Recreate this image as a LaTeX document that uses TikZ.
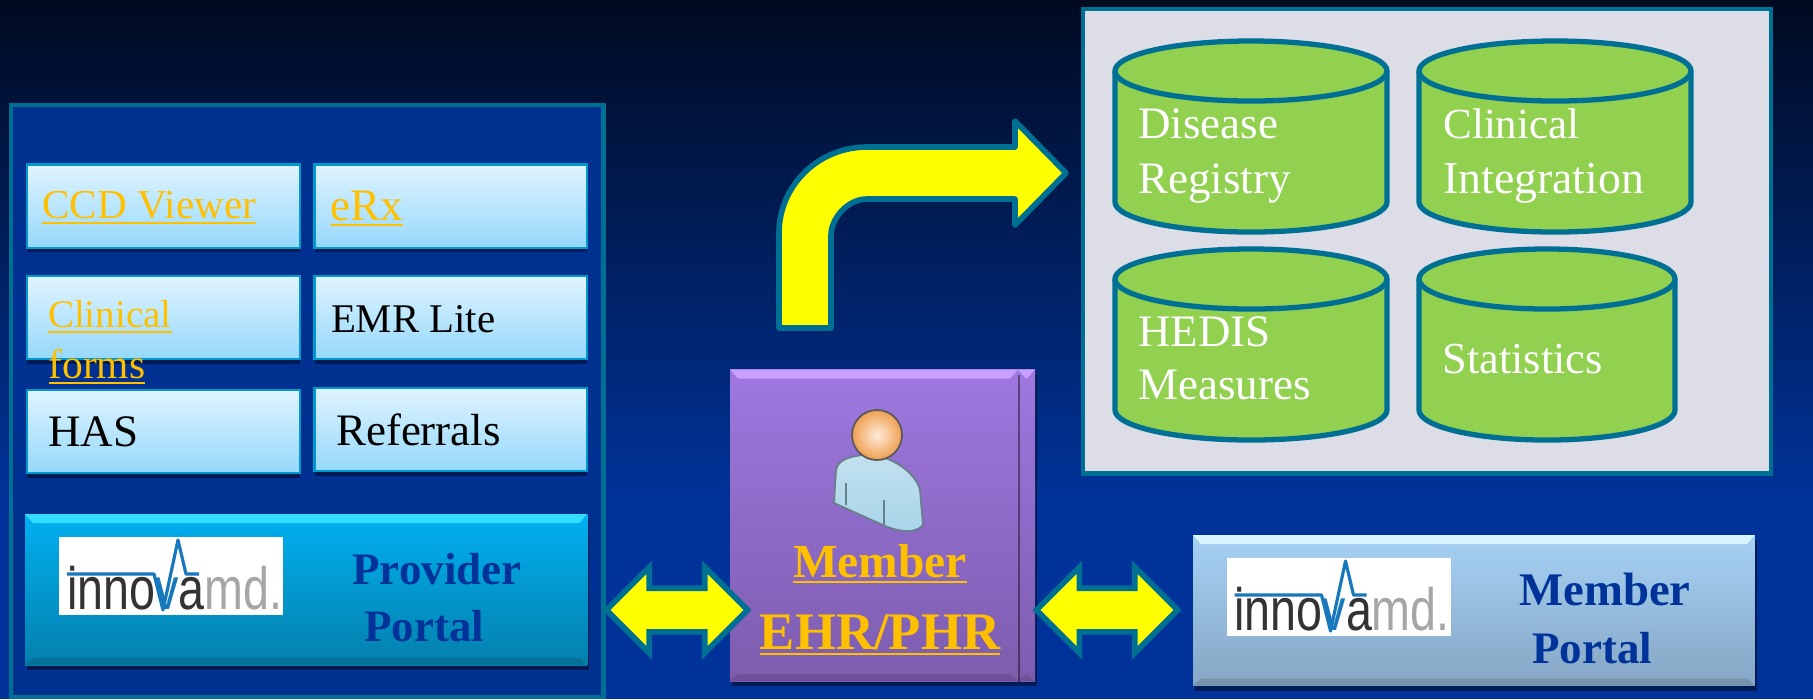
\documentclass[tikz,border=0pt]{standalone}
\usepackage{fontspec}
\usepackage{graphicx}
\usetikzlibrary{shapes.arrows,shadows}
\setmainfont{Liberation Serif}
\newfontfamily\logofont{Liberation Sans}

\definecolor{bgtop}{HTML}{000A20}
\definecolor{bgblue}{HTML}{003399}
\definecolor{panelblue}{HTML}{003090}
\definecolor{edgeteal}{HTML}{006F94}
\definecolor{boxedge}{HTML}{0099CC}
\definecolor{boxtop}{HTML}{DFF4FF}
\definecolor{boxbottom}{HTML}{95D8FB}
\definecolor{shadownavy}{HTML}{001A55}
\definecolor{linkgold}{HTML}{FFC000}
\definecolor{cylgreen}{HTML}{92D050}
\definecolor{greypanel}{HTML}{DDDDE8}
\definecolor{portalblue}{HTML}{003399}
\definecolor{provtop}{HTML}{00B0F0}
\definecolor{provbottom}{HTML}{0480AC}
\definecolor{provlight}{HTML}{33DDFF}
\definecolor{memtop}{HTML}{A6D2F5}
\definecolor{membottom}{HTML}{86A6C4}
\definecolor{memlight}{HTML}{D8F4FF}
\definecolor{purpletop}{HTML}{9E78E0}
\definecolor{purplebottom}{HTML}{7D5CAE}
\definecolor{purplelight}{HTML}{C9A0FF}
\definecolor{bodyblue}{HTML}{A8D4E8}
\definecolor{arrowyellow}{HTML}{FFFF00}
\definecolor{logoblue}{HTML}{1878BE}

\newcommand{\linktext}[1]{\vtop{\hbox{\smash{#1}}\kern1.1pt\hrule height 0.7pt}}

\tikzset{
    panelbox/.style={draw=edgeteal, line width=1.3pt, anchor=north west, outer sep=0pt},
    smallbox/.style={draw=boxedge, line width=0.6pt, anchor=north west, outer sep=0pt,
        minimum width=2.725cm, minimum height=0.83cm, top color=boxtop, bottom color=boxbottom,
        general shadow={fill=shadownavy, shadow yshift=-0.045cm}},
    bevel/.style={path picture={
        \fill[#1] (path picture bounding box.north west) -- (path picture bounding box.north east)
            -- ([xshift=-0.08cm,yshift=-0.09cm]path picture bounding box.north east)
            -- ([xshift=0.08cm,yshift=-0.09cm]path picture bounding box.north west) -- cycle;
        \fill[black, opacity=0.12] (path picture bounding box.south west) -- (path picture bounding box.south east)
            -- ([xshift=-0.08cm,yshift=0.07cm]path picture bounding box.south east)
            -- ([xshift=0.08cm,yshift=0.07cm]path picture bounding box.south west) -- cycle;
    }},
    portalbox/.style={anchor=north west, inner sep=0pt, outer sep=0pt, draw=none,
        drop shadow={fill=black, shadow xshift=0.02cm, shadow yshift=-0.05cm, opacity=0.45}},
    dbcyl/.pic={
        \coordinate (-top) at (#1, 41);
        \draw[edgeteal, line width=1.5pt, fill=cylgreen] (0, 71) arc[start angle=180, end angle=0, x radius=#1*0.01cm, y radius=0.3cm]
            -- (2*#1, 202) arc[start angle=0, end angle=-180, x radius=#1*0.01cm, y radius=0.3cm] -- cycle;
        \draw[edgeteal, line width=1.5pt] (0, 71) arc[start angle=180, end angle=360, x radius=#1*0.01cm, y radius=0.3cm];
    },
    blockarrow/.style={double arrow, draw=edgeteal, line width=1.6pt, fill=arrowyellow, inner xsep=0pt, inner ysep=0.19cm, outer sep=0pt,
        minimum height=1.41cm, minimum width=0.8cm, double arrow head extend=0.21cm},
    txtlabel/.style={inner sep=0pt, outer sep=0pt, anchor=base west, font=\fontsize{12.8}{15.1}\selectfont},
    boldlabel/.style={inner sep=0pt, outer sep=0pt, anchor=base, font=\fontsize{12.8}{15.1}\selectfont\bfseries},
    innovalogo/.pic={
        \node[fill=white, inner sep=0pt, outer sep=0pt, anchor=north west, minimum width=2.24cm, minimum height=0.78cm] (-back) at (0, 0) {};
        \node[inner sep=0pt, outer sep=0pt, anchor=base west, text=black!80, font=\logofont\fontsize{17}{17}\selectfont] (-name) at (8, 72)
            {\scalebox{0.78}[1]{inno\textcolor{logoblue}{v}a\textcolor{black!35}{md.}}};
        \draw[logoblue, line width=0.9pt, line join=round] (8, 37) -- (95, 37) -- (104, 73) -- (119, 3) -- (127, 37) -- (140, 37);
    }
}

\begin{document}
\begin{tikzpicture}[x=0.01cm, y=-0.01cm]
    \useasboundingbox (0, 0) rectangle (1813, 699);
    \shade[top color=bgtop, bottom color=bgblue] (0, 0) rectangle (1813, 500);
    \fill[bgblue] (0, 499) rectangle (1813, 699);

    % provider side
    \node[panelbox, fill=panelblue, minimum width=5.92cm, minimum height=5.915cm] (provider) at (11, 105) {};
    \node[smallbox] (ccd) at (27, 164.5) {};
    \node[smallbox] (erx) at (314.5, 164.5) {};
    \node[smallbox] (clinical) at (27, 276) {};
    \node[smallbox] (emr) at (314.5, 276) {};
    \node[smallbox] (has) at (27, 390) {};
    \node[smallbox] (referrals) at (314.5, 388) {};

    \node[txtlabel, text=linkgold, font=\fontsize{11.7}{15}\selectfont] (ccdtext) at (42.5, 218) {\linktext{CCD Viewer}};
    \node[txtlabel, text=linkgold] (erxtext) at (330.5, 220) {\linktext{eRx}};
    \node[txtlabel, text=linkgold, font=\fontsize{11.1}{15}\selectfont] (clinicaltext) at (48, 327) {\linktext{Clinical}};
    \node[txtlabel, text=linkgold, font=\fontsize{11.8}{15}\selectfont] (formstext) at (48.5, 378) {\linktext{forms}};
    \node[txtlabel, font=\fontsize{11.6}{15}\selectfont] (emrtext) at (331, 332) {EMR Lite};
    \node[txtlabel] (hastext) at (48, 446) {HAS};
    \node[txtlabel] (referralstext) at (336, 445) {Referrals};

    \node[portalbox, top color=provtop, bottom color=provbottom, bevel=provlight, minimum width=5.62cm, minimum height=1.51cm] (providerportal) at (25, 514) {};
    \pic (providerlogo) at (59, 537) {innovalogo};
    \node[boldlabel, text=portalblue] (providertext) at (437, 584) {Provider};
    \node[boldlabel, text=portalblue] (portaltext) at (424, 641) {Portal};

    % member in the middle
    \node[portalbox, top color=purpletop, bottom color=purplebottom, bevel=purplelight, minimum width=0.17cm, minimum height=3.115cm] (memberback) at (1018, 369.5) {};
    \node[portalbox, top color=purpletop, bottom color=purplebottom, bevel=purplelight, minimum width=2.88cm, minimum height=3.115cm] (member) at (730, 369.5) {};

    \draw[bodyblue!60!black, line width=0.5pt, top color=bodyblue!70!white, bottom color=bodyblue] (834, 503) -- (836, 470) .. controls (838, 460) and (848, 457) .. (862, 455) .. controls (885, 452) and (915, 470) .. (920, 490) -- (923, 525) .. controls (915, 534) and (900, 532) .. (885, 526) -- cycle;
    \draw[bodyblue!60!black, line width=0.4pt] (846, 483) -- (846, 505);
    \draw[bodyblue!60!black, line width=0.4pt] (884, 500) -- (884, 525);
    \node[circle, draw=black!65, line width=0.5pt, inner color=orange!15!white, outer color=orange!65!brown!75!white, minimum size=0.5cm, inner sep=0pt, outer sep=0pt] (head) at (877, 435) {};

    \node[boldlabel, text=linkgold, font=\fontsize{13.5}{15}\selectfont\bfseries] (membertext) at (880, 577) {\linktext{Member}};
    \node[boldlabel, text=linkgold, font=\fontsize{15}{15}\selectfont\bfseries] (ehrtext) at (880, 649) {\linktext{EHR/PHR}};

    % member portal
    \node[portalbox, top color=memtop, bottom color=membottom, bevel=memlight, minimum width=5.615cm, minimum height=1.505cm] (memberportal) at (1193, 535) {};
    \pic (memberlogo) at (1226.5, 558) {innovalogo};
    \node[boldlabel, text=portalblue, font=\fontsize{13.3}{15}\selectfont\bfseries] (memberportaltext) at (1605, 605) {Member};
    \node[boldlabel, text=portalblue] (portaltextb) at (1592, 663) {Portal};

    \node[blockarrow] (providerlink) at (677, 610) {};
    \node[blockarrow] (memberlink) at (1107, 610) {};

    % bent arrow up to the reports
    \draw[edgeteal, line width=1.6pt, fill=arrowyellow, line join=round] (779, 328) -- (779, 233) .. controls (779, 185.5) and (818.4, 147) .. (867, 147) -- (1015, 147) -- (1015, 121) -- (1066, 173) -- (1015, 225) -- (1015, 199) -- (867, 199) .. controls (847, 199) and (831, 219) .. (831, 235) -- (831, 328) -- cycle;

    % reports side
    \node[panelbox, fill=greypanel, minimum width=6.875cm, minimum height=4.64cm] (reports) at (1083, 9) {};
    \pic (disease) at (1115, 0) {dbcyl=136};
    \pic (integration) at (1419, 0) {dbcyl=136};
    \pic (hedis) at (1115, 208) {dbcyl=136};
    \pic (statistics) at (1419, 208) {dbcyl=128};

    \node[txtlabel, text=white] (diseasetext) at (1138, 138.5) {Disease};
    \node[txtlabel, text=white] (registrytext) at (1138, 193) {Registry};
    \node[txtlabel, text=white, font=\fontsize{12.2}{15}\selectfont] (clinicalcyl) at (1443.5, 138.5) {Clinical};
    \node[txtlabel, text=white, font=\fontsize{13}{15}\selectfont] (integrationtext) at (1443.5, 193) {Integration};
    \node[txtlabel, text=white] (hedistext) at (1138, 346.5) {HEDIS};
    \node[txtlabel, text=white] (measurestext) at (1138, 399) {Measures};
    \node[txtlabel, text=white, font=\fontsize{12.6}{15}\selectfont] (statisticstext) at (1442.5, 373) {Statistics};
\end{tikzpicture}
\end{document}
